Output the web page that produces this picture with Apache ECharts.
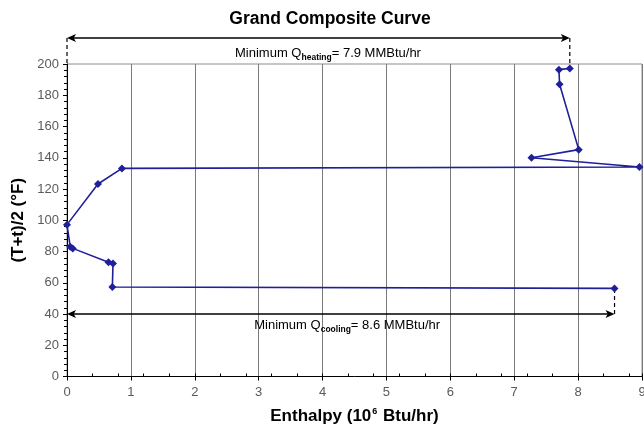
<!DOCTYPE html>
<html><head><meta charset="utf-8">
<script src="https://cdn.jsdelivr.net/npm/echarts@6/dist/echarts.min.js"></script>
<style>html,body{margin:0;padding:0;background:#fff}#c{width:644px;height:425px}</style>
</head><body><div id="c"></div>
<script>
// ---- data ----
const enthalpy    = [7.87, 7.70, 7.71, 8.01, 7.27, 8.96, 0.86, 0.485, 0.00, 0.05, 0.09, 0.65, 0.72, 0.71, 8.57];
const temperature = [197.2, 196.4, 187.0, 145.2, 140.0, 134.1, 133.2, 123.2, 97.2, 83.1, 82.0, 73.1, 72.4, 57.3, 56.4];
const xTickLabels = ['0','1','2','3','4','5','6','7','8','9'];
const yTickLabels = ['0','20','40','60','80','100','120','140','160','180','200'];
const heatingDuty = 7.9;      // MMBtu/hr (label)
const heatingEnd = 7.87;      // x of dashed line at top
const heatingArrowY = 216.6;  // arrow level (above plot)
const coolingDuty = 8.6;
const coolingEnd = 8.57;
const coolingArrowY = 40;

const FONT = '"Liberation Sans", Arial, sans-serif';
const BLUE = '#1f1f99';
const chart = echarts.init(document.getElementById('c'));

const option = {
  animation: false,
  title: {
    text: 'Grand Composite Curve', left: 330, top: 10, textAlign: 'center', padding: 0,
    textStyle: {fontFamily: FONT, fontSize: 17.5, fontWeight: 'bold', color: '#000'}
  },
  grid: {left: 67, right: 2, top: 64, bottom: 48.5, outerBoundsMode: 'none', containLabel: false,
    show: true, borderColor: '#8c8c8c', borderWidth: 1},
  xAxis: [{
    type: 'value', min: 0, max: 9, interval: 1,
    axisLine: {show: true, lineStyle: {color: '#000', width: 1}},
    axisTick: {show: true, length: 4, lineStyle: {color: '#000'}},
    axisLabel: {color: '#5a5a5a', fontSize: 13, fontFamily: FONT, margin: 9,
      formatter: v => xTickLabels[Math.round(v)] ?? ''},
    splitLine: {show: true, lineStyle: {color: '#7a7a7a', width: 1}},
    name: 'Enthalpy (10{sup|6} Btu/hr)', nameLocation: 'middle', nameGap: 31,
    nameTextStyle: {fontFamily: FONT, fontSize: 17, fontWeight: 'bold', color: '#000', lineHeight: 18,
      rich: {sup: {fontFamily: FONT, fontSize: 9, fontWeight: 'bold', color: '#000', verticalAlign: 'top', lineHeight: 18, padding: [0, 1, 7, 1]}}}
  }, {
    type: 'value', min: 0, max: 9, interval: 0.4, position: 'bottom',
    axisLine: {show: false}, axisLabel: {show: false}, splitLine: {show: false},
    axisTick: {show: true, inside: true, length: 3, lineStyle: {color: '#000'}}
  }],
  yAxis: {
    type: 'value', min: 0, max: 200, interval: 20,
    axisLine: {show: true, lineStyle: {color: '#000', width: 1}},
    axisTick: {show: true, length: 4, lineStyle: {color: '#000'}},
    minorTick: {show: true, splitNumber: 5, length: 3, lineStyle: {color: '#000'}},
    splitLine: {show: false},
    axisLabel: {color: '#5a5a5a', fontSize: 13, fontFamily: FONT, margin: 8,
      formatter: v => yTickLabels[Math.round(v / 20)] ?? ''},
    name: '(T+t)/2 (°F)', nameLocation: 'middle', nameGap: 34,
    nameTextStyle: {fontFamily: FONT, fontSize: 17, fontWeight: 'bold', color: '#000'}
  },
  series: [{
    type: 'line', data: enthalpy.map((x, i) => [x, temperature[i]]),
    symbol: 'diamond', symbolSize: 8, showSymbol: true,
    lineStyle: {color: BLUE, width: 1.6}, itemStyle: {color: BLUE},
    silent: true
  }]
};
chart.setOption(option);

// ---- annotations placed through the chart's own scales ----
const px = (x, y) => chart.convertToPixel({gridIndex: 0}, [x, y]);
const solid = {stroke: '#000', lineWidth: 1.5};
const dashed = {stroke: '#000', lineWidth: 1.2, lineDash: [4, 3]};
function seg(a, b, style) {
  return {type: 'line', silent: true, shape: {x1: a[0], y1: a[1], x2: b[0], y2: b[1]}, style: style};
}
function head(tip, dir) { // dir = -1 points left, +1 points right
  const L = 9, W = 4;
  return {type: 'polygon', silent: true,
    shape: {points: [[tip[0], tip[1]], [tip[0] - dir * L, tip[1] - W], [tip[0] - dir * L * 0.75, tip[1]], [tip[0] - dir * L, tip[1] + W]]},
    style: {fill: '#000'}};
}
function doubleArrow(x1, x2, y) {
  const a = px(x1, y), b = px(x2, y);
  return [seg([a[0] + 5, a[1]], [b[0] - 5, b[1]], solid), head(a, -1), head(b, 1)];
}
const richText = {
  sub: {fontFamily: FONT, fontSize: 8.5, fontWeight: 'bold', fill: '#000', verticalAlign: 'bottom', lineHeight: 17, padding: [5, 0, 0, 0]}
};
function label(text, p) {
  return {type: 'text', x: p[0], y: p[1], silent: true,
    style: {text: text, fontFamily: FONT, fontSize: 13, fill: '#000', lineHeight: 17,
      align: 'center', verticalAlign: 'middle', rich: richText}};
}
const graphics = [].concat(
  doubleArrow(0, heatingEnd, heatingArrowY),
  [seg(px(0, heatingArrowY), px(0, 200), dashed),
   seg(px(heatingEnd, heatingArrowY), px(heatingEnd, temperature[0]), dashed)],
  doubleArrow(0, coolingEnd, coolingArrowY),
  [seg(px(coolingEnd, coolingArrowY), px(coolingEnd, temperature[temperature.length - 1]), dashed)],
  [label('Minimum Q{sub|heating}= ' + heatingDuty + ' MMBtu/hr', px(heatingEnd / 2 + 0.15, heatingArrowY - 10)),
   label('Minimum Q{sub|cooling}= ' + coolingDuty + ' MMBtu/hr', px(coolingEnd / 2 + 0.1, coolingArrowY - 7.5))]
);
chart.setOption({graphic: graphics});
</script></body></html>
